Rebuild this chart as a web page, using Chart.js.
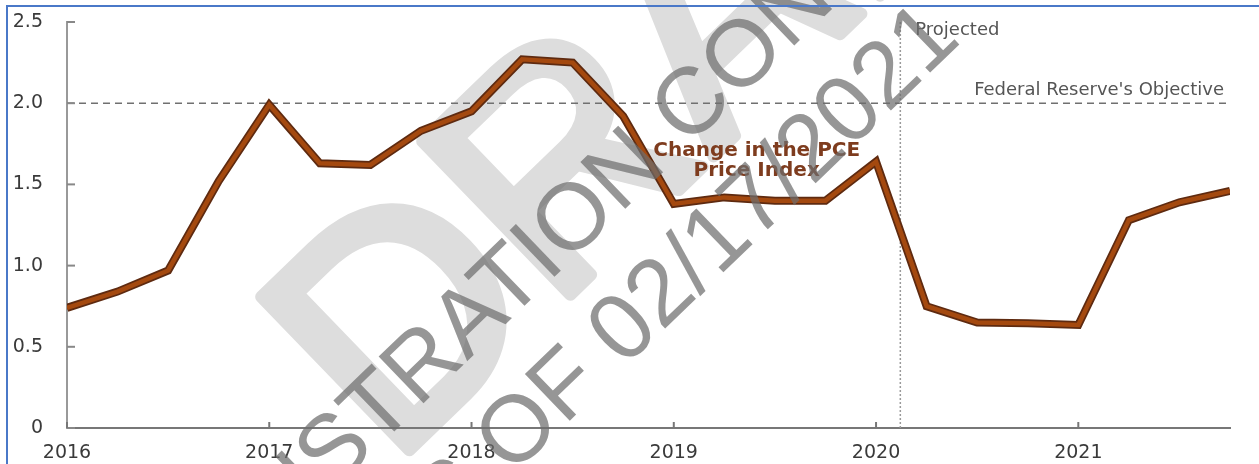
<!DOCTYPE html>
<html lang="en">

<head>
    <meta charset="UTF-8">
    <title>Change in the PCE Price Index</title>
    <script src="https://cdn.jsdelivr.net/npm/chart.js"></script>
    <style>
        body {
            margin: 0;
            background: #fff;
            overflow: hidden;
        }

        #wrap {
            position: relative;
            width: 1259px;
            height: 464px;
        }

        #frame {
            position: absolute;
            left: 6px;
            top: 5px;
            width: 1300px;
            height: 500px;
            border: 2px solid #4a78c8;
            pointer-events: none;
        }
    </style>
</head>

<body>
    <div id="wrap">
        <canvas id="pceChart" width="1259" height="464"></canvas>
        <div id="frame"></div>
    </div>

    <script>
        // quarterly observations, x in fractional years
        const quarters = [
            2016.00, 2016.25, 2016.50, 2016.75,
            2017.00, 2017.25, 2017.50, 2017.75,
            2018.00, 2018.25, 2018.50, 2018.75,
            2019.00, 2019.25, 2019.50, 2019.75,
            2020.00, 2020.25, 2020.50, 2020.75,
            2021.00, 2021.25, 2021.50, 2021.75
        ];
        const pceChange = [
            0.74, 0.84, 0.97, 1.52,
            1.99, 1.63, 1.62, 1.83,
            1.95, 2.27, 2.25, 1.92,
            1.38, 1.42, 1.40, 1.40,
            1.64, 0.75, 0.65, 0.645,
            0.635, 1.28, 1.39, 1.46
        ];
        const xYears = [2016, 2017, 2018, 2019, 2020, 2021];
        const yTicks = [0, 0.5, 1.0, 1.5, 2.0, 2.5];
        const yTickLabels = ['0', '0.5', '1.0', '1.5', '2.0', '2.5'];
        const fedObjective = 2.0;
        const projectionStart = 2020.12;

        const points = quarters.map((q, i) => ({ x: q, y: pceChange[i] }));

        const extras = {
            id: 'extras',
            beforeDatasetsDraw(chart) {
                const { ctx, chartArea, scales: { x, y } } = chart;
                ctx.save();
                // Fed objective line
                ctx.strokeStyle = '#707070';
                ctx.lineWidth = 1.5;
                ctx.setLineDash([7, 5]);
                const yo = y.getPixelForValue(fedObjective);
                ctx.beginPath();
                ctx.moveTo(chartArea.left, yo);
                ctx.lineTo(chartArea.right - 2, yo);
                ctx.stroke();
                // projection divider
                ctx.strokeStyle = '#9a9a9a';
                ctx.setLineDash([2, 2]);
                const xp = x.getPixelForValue(projectionStart);
                ctx.beginPath();
                ctx.moveTo(xp, chartArea.top);
                ctx.lineTo(xp, chartArea.bottom);
                ctx.stroke();
                ctx.setLineDash([]);
                // inward tick marks
                ctx.strokeStyle = '#888';
                ctx.lineWidth = 2;
                yTicks.forEach(v => {
                    const py = y.getPixelForValue(v);
                    ctx.beginPath();
                    ctx.moveTo(chartArea.left, py);
                    ctx.lineTo(chartArea.left + 8, py);
                    ctx.stroke();
                });
                ctx.strokeStyle = '#777';
                xYears.forEach(v => {
                    const px = x.getPixelForValue(v);
                    ctx.beginPath();
                    ctx.moveTo(px, chartArea.bottom);
                    ctx.lineTo(px, chartArea.bottom - 6);
                    ctx.stroke();
                });
                // text labels
                ctx.fillStyle = '#555';
                ctx.font = '18px "DejaVu Sans"';
                ctx.textBaseline = 'middle';
                ctx.textAlign = 'left';
                ctx.fillText('Projected', xp + 15, y.getPixelForValue(2.45));
                ctx.textAlign = 'right';
                ctx.fillText("Federal Reserve's Objective", chartArea.right - 6, y.getPixelForValue(2.08));
                ctx.restore();
            },
            afterDatasetsDraw(chart) {
                const { ctx, scales: { x, y } } = chart;
                ctx.save();
                ctx.fillStyle = '#7e3c1e';
                ctx.font = 'bold 20px "DejaVu Sans"';
                ctx.textAlign = 'center';
                ctx.textBaseline = 'middle';
                ctx.fillText('Change in the PCE', x.getPixelForValue(2019.41), y.getPixelForValue(1.705));
                ctx.fillText('Price Index', x.getPixelForValue(2019.41), y.getPixelForValue(1.585));
                ctx.restore();
            },
            afterDraw(chart) {
                const { ctx } = chart;
                ctx.save();
                // big light watermark, rounded strokes
                ctx.globalCompositeOperation = 'darken';
                ctx.translate(391, 468);
                ctx.rotate(-44 * Math.PI / 180);
                ctx.fillStyle = '#dddddd';
                ctx.strokeStyle = '#dddddd';
                ctx.lineWidth = 12;
                ctx.lineJoin = 'round';
                ctx.font = '310px "Liberation Sans"';
                ctx.textAlign = 'left';
                ctx.textBaseline = 'alphabetic';
                ctx.fillText('DRAFT', 0, 0);
                ctx.strokeText('DRAFT', 0, 0);
                ctx.restore();

                ctx.save();
                ctx.translate(625, 252);
                ctx.rotate(-44 * Math.PI / 180);
                ctx.fillStyle = 'rgba(110,110,110,0.72)';
                ctx.font = '94px "Liberation Sans"';
                ctx.textAlign = 'center';
                ctx.textBaseline = 'middle';
                ctx.fillText('ILLUSTRATION CONCEPT', 0, -57);
                ctx.fillText('AS OF 02/17/2021', 0, 57);
                ctx.restore();
            }
        };

        const ctx = document.getElementById('pceChart').getContext('2d');
        const pceChart = new Chart(ctx, {
            type: 'line',
            data: {
                datasets: [{
                    label: 'Change in the PCE Price Index',
                    data: points,
                    borderColor: '#a4490f',
                    borderWidth: 4.5,
                    borderJoinStyle: 'miter',
                    pointRadius: 0,
                    tension: 0
                }, {
                    label: 'outline',
                    data: points,
                    borderColor: '#5e2a10',
                    borderWidth: 8,
                    borderJoinStyle: 'miter',
                    pointRadius: 0,
                    tension: 0
                }]
            },
            options: {
                responsive: false,
                animation: false,
                layout: {
                    padding: { top: 22, right: 29, left: 0, bottom: 0 }
                },
                plugins: {
                    legend: { display: false },
                    tooltip: { enabled: false }
                },
                scales: {
                    x: {
                        type: 'linear',
                        min: 2016,
                        max: 2021.75,
                        afterBuildTicks: s => { s.ticks = xYears.map(v => ({ value: v })); },
                        afterFit: s => { s.height = 36; },
                        grid: { display: false, drawTicks: false },
                        border: { color: '#777', width: 2 },
                        ticks: {
                            color: '#3a3a3a',
                            font: { family: 'DejaVu Sans', size: 19 },
                            padding: 14,
                            maxRotation: 0,
                            autoSkip: false,
                            callback: v => String(v)
                        }
                    },
                    y: {
                        min: 0,
                        max: 2.5,
                        afterBuildTicks: s => { s.ticks = yTicks.map(v => ({ value: v })); },
                        afterFit: s => {
                            s.width = 67;
                            s.paddingTop = 12;
                            s.paddingBottom = 0;
                        },
                        grid: { display: false, drawTicks: false },
                        border: { color: '#999', width: 2 },
                        ticks: {
                            color: '#3a3a3a',
                            font: { family: 'DejaVu Sans', size: 19 },
                            padding: 24,
                            callback: (v, i) => yTickLabels[i]
                        }
                    }
                }
            },
            plugins: [extras]
        });
    </script>

</body>

</html>
